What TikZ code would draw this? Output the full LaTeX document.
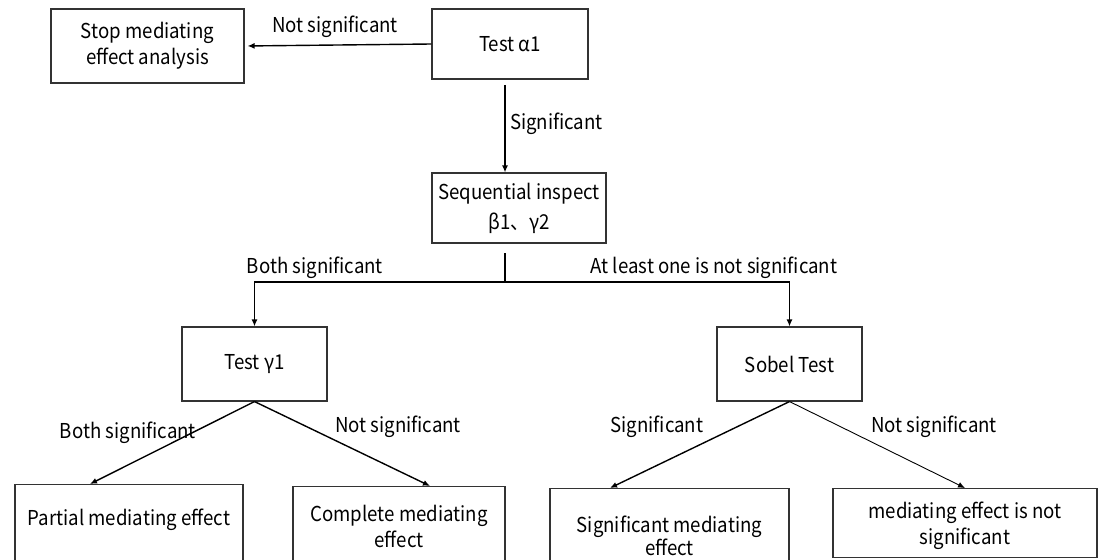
\documentclass[tikz,border=0pt]{standalone}
\usepackage{fontspec}
\setmainfont[FakeStretch=0.91]{Noto Sans CJK SC}
\newfontfamily\cjk[FakeStretch=0.91]{Noto Sans CJK SC}
\usetikzlibrary{arrows.meta}
\tikzset{
  box/.style={draw=black!80, line width=1.1pt, rectangle, inner sep=0pt, align=center},
  txt/.style={inner sep=0pt, align=center, font=\fontsize{20.5}{26}\selectfont},
  lbl/.style={inner sep=0pt, font=\fontsize{20.5}{24}\selectfont},
  arr/.style={line width=1.4pt, -{Latex[length=7pt,width=6pt]}},
  ln/.style={line width=1.4pt}
}
\begin{document}
\begin{tikzpicture}[x=1pt,y=-1pt]
\useasboundingbox (0,0) rectangle (1099,559);
\clip (0,0) rectangle (1099,559);
% boxes with text
\node[box, txt, minimum width=193pt, minimum height=74pt] (stop) at (147.5,46) {Stop mediating\\effect analysis};
\node[box, txt, minimum width=156pt, minimum height=70pt] (a1) at (510,44) {Test α1};
\node[box, txt, font=\fontsize{20.5}{30}\selectfont, minimum width=174pt, minimum height=70pt] (seq) at (519,208) {Sequential inspect\\β1{\cjk 、}γ2};
\node[box, txt, minimum width=145pt, minimum height=74pt] (g1) at (254.5,364) {Test γ1};
\node[box, txt, minimum width=145pt, minimum height=74pt] (sob) at (789.5,364) {Sobel Test};
% bottom boxes (extend beyond lower edge)
\node[box, minimum width=228pt, minimum height=100pt, anchor=north] (pb) at (129,484) {};
\node[txt] (pt) at (129,520) {Partial mediating effect};
\node[box, minimum width=212pt, minimum height=100pt, anchor=north] (cb) at (399,486) {};
\node[txt] (ct) at (399,526) {Complete mediating\\effect};
\node[box, minimum width=239pt, minimum height=100pt, anchor=north] (sb) at (669.5,488) {};
\node[txt, font=\fontsize{20.5}{23}\selectfont] (st) at (669.5,536) {Significant mediating\\effect};
\node[box, minimum width=264pt, minimum height=69pt, anchor=north] (nb) at (965,488) {};
\node[txt] (nt) at (965,526) {mediating effect is not\\significant};
% connectors
\draw[arr, shorten >=3pt] (a1.west) -- (stop.east);
\coordinate (c1) at (505,85);
\draw[arr] (c1) -- (c1 |- seq.north);
\coordinate (c2) at (505,253);
\coordinate (j) at (505,282);
\draw[ln] (c2) -- (j);
\draw[arr] (j) -| (g1.north);
\draw[arr] (j) -| (sob.north);
\coordinate (gt1) at (90,484);
\coordinate (gt2) at (430,486);
\coordinate (st1) at (610,488);
\coordinate (st2) at (965,488);
\draw[arr] (g1.south) -- (gt1);
\draw[arr] (g1.south) -- (gt2);
\draw[arr] (sob.south) -- (st1);
\draw[arr, line width=0.9pt] (sob.south) -- (st2);
% labels
\node[lbl] (l1) at (335,27) {Not significant};
\node[lbl, anchor=west] (l2) at (510,124) {Significant};
\node[lbl] (l3) at (315,268) {Both significant};
\node[lbl] (l4) at (714,268) {At least one is not significant};
\node[lbl] (l5) at (128,433) {Both significant};
\node[lbl] (l6) at (398,427) {Not significant};
\node[lbl] (l7) at (657,427) {Significant};
\node[lbl] (l8) at (934,427) {Not significant};
\end{tikzpicture}
\end{document}
